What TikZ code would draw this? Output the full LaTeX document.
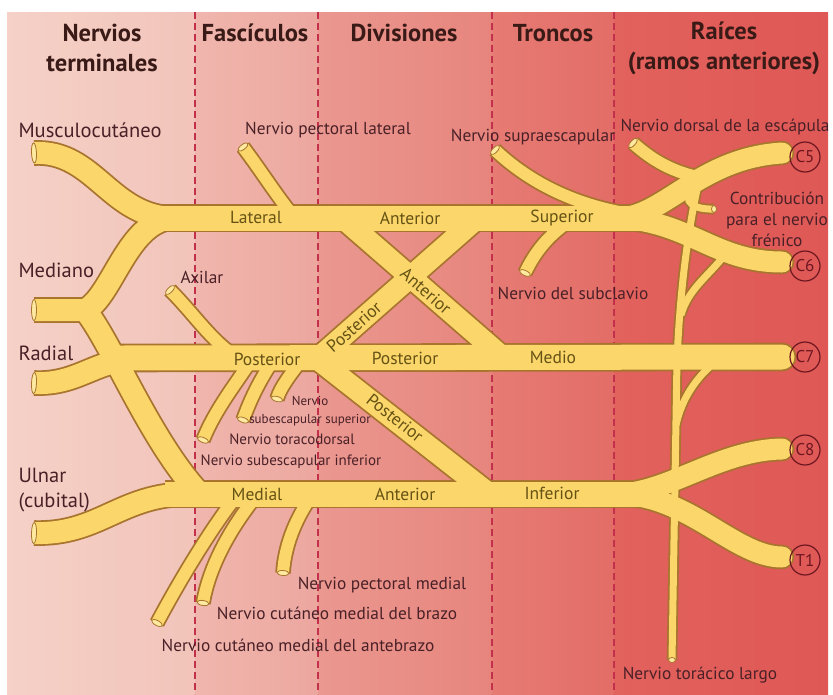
\documentclass[tikz,border=0pt]{standalone}
\usepackage{fontspec}
\setmainfont{PT Sans}
\usetikzlibrary{shapes.geometric}
\definecolor{bandA}{HTML}{F5D1C7}
\definecolor{bandAr}{HTML}{F2C4BA}
\definecolor{bandB}{HTML}{F0B6AD}
\definecolor{bandBr}{HTML}{ECA79F}
\definecolor{bandC}{HTML}{EA9890}
\definecolor{bandCr}{HTML}{E7857D}
\definecolor{bandD}{HTML}{E67B74}
\definecolor{bandDr}{HTML}{E36D67}
\definecolor{bandE}{HTML}{E2625D}
\definecolor{bandEr}{HTML}{DF5856}
\definecolor{sepred}{HTML}{C2304B}
\definecolor{nerveyellow}{HTML}{FAD66B}
\definecolor{nerveedge}{HTML}{A8742E}
\definecolor{cutyellow}{HTML}{FDE9A0}
\definecolor{headtext}{HTML}{3A1A16}
\definecolor{labeltext}{HTML}{4A2027}
\definecolor{oncord}{HTML}{665214}
\definecolor{rootred}{HTML}{6E1620}

\begin{document}
\begin{tikzpicture}[x=1pt, y=-1pt,
    sep/.style={draw=sepred, line width=1.3pt, dash pattern=on 7pt off 4pt},
    head/.style={text=headtext, align=center, font=\fontsize{24.5}{30}\selectfont\bfseries},
    lbl/.style={text=labeltext, align=center, font=\fontsize{17.3}{21}\selectfont},
    big/.style={text=labeltext, align=left, anchor=west, font=\fontsize{20.5}{25}\selectfont},
    small/.style={text=labeltext, align=center, font=\fontsize{15}{17}\selectfont},
    tiny/.style={text=labeltext, align=center, font=\fontsize{13}{18}\selectfont},
    oncordtext/.style={text=oncord, font=\fontsize{17.5}{19}\selectfont},
    rootlbl/.style={circle, draw=rootred, line width=1.2pt, minimum size=30pt, inner sep=0pt,
                    text=rootred, font=\fontsize{17}{19}\selectfont},
    trunkw/.style={line width=\wT pt},
    termw/.style={line width=\wM pt},
    rootw/.style={line width=\wR pt, line cap=round},
    divw/.style={line width=\wR pt},
    brw/.style={line width=\wB pt},
    ltw/.style={line width=\wL pt},
    cutend/.style={ellipse, draw=\cutdraw, fill=\cutfill, line width=0.8pt, inner sep=0pt,
                   minimum width=5pt, minimum height=#1}]
\useasboundingbox (0,0) rectangle (833,694);

% Background bands
\shade[left color=bandA, right color=bandAr] (7,12) rectangle (195,694);
\shade[left color=bandB, right color=bandBr] (195,12) rectangle (318,694);
\shade[left color=bandC, right color=bandCr] (318,12) rectangle (492,694);
\shade[left color=bandD, right color=bandDr] (492,12) rectangle (614,694);
\shade[left color=bandE, right color=bandEr] (614,12) rectangle (828,694);
\foreach \x in {195,318,492,614}
  \draw[sep] (\x,12) -- (\x,694);

% Headers
\node[head] (hNerv) at (102,48) {Nervios\\terminales};
\node[head] (hFasc) at (255,33) {Fascículos};
\node[head] (hDiv) at (404,33) {Divisiones};
\node[head] (hTron) at (553,33) {Troncos};
\node[head] (hRaic) at (724,48) {Raíces\\(ramos anteriores)};

% Free ends
\coordinate (MC) at (34,153);
\coordinate (Med) at (34,310);
\coordinate (MedJ) at (85,310);
\coordinate (Rad) at (34,383);
\coordinate (Uln) at (34,533);
\coordinate (C5e) at (782,153);
\coordinate (C6e) at (782,262);
\coordinate (C7e) at (782,357);
\coordinate (C8e) at (782,449);
\coordinate (T1e) at (782,557);
\coordinate (PL) at (243,147);
\coordinate (SS) at (495,150);
\coordinate (DS) at (633,143);
\coordinate (SC) at (525,273);
\coordinate (PhrE) at (714,209);
\coordinate (LTe) at (672,660);
\coordinate (Ax) at (170,290);
\coordinate (SSi) at (203,440);
\coordinate (TD) at (243,420);
\coordinate (SSs) at (277,399);
\coordinate (PM) at (283,573);
\coordinate (CMB) at (203,603);
\coordinate (CMA) at (157,623);

% Nerves: edge pass, then yellow pass
\foreach \rim/\col/\cutdraw/\cutfill in {3.6/nerveedge/none/none, 0/nerveyellow/nerveedge/cutyellow}{
  \pgfmathsetmacro\wT{25+\rim}
  \pgfmathsetmacro\wM{22+\rim}
  \pgfmathsetmacro\wR{21+\rim}
  \pgfmathsetmacro\wB{12+\rim}
  \pgfmathsetmacro\wL{7+\rim}
  \begin{scope}[draw=\col]
    % long thoracic
    \draw[ltw] (698,185) .. controls (688,230) and (680,290) .. (677,360) -- (LTe)
      node[pos=1, sloped, cutend=7pt] (cutLT) {};
    \draw[ltw] (724,256) .. controls (706,278) and (688,290) .. (681,315);
    \draw[ltw] (715,362) .. controls (696,378) and (682,398) .. (676,425);
    % phrenic contribution
    \draw[ltw] (700,184) .. controls (680,195) and (686,210) .. (PhrE)
      node[pos=1, sloped, cutend=7pt] (cutPh) {};
    % collateral branches
    \draw[brw] (PL) .. controls (262,172) and (278,198) .. (295,218)
      node[pos=0, sloped, cutend=12pt] (cutPL) {};
    \draw[brw] (SS) .. controls (530,183) and (575,205) .. (630,214)
      node[pos=0, sloped, cutend=12pt] (cutSS) {};
    \draw[brw] (DS) .. controls (652,160) and (672,172) .. (702,178)
      node[pos=0, sloped, cutend=12pt] (cutDS) {};
    \draw[brw] (SC) .. controls (535,252) and (548,236) .. (568,222)
      node[pos=0, sloped, cutend=12pt] (cutSC) {};
    \draw[brw] (Ax) .. controls (195,315) and (212,342) .. (238,358)
      node[pos=0, sloped, cutend=12pt] (cutAx) {};
    \draw[brw] (SSi) .. controls (215,410) and (235,385) .. (250,362)
      node[pos=0, sloped, cutend=12pt] (cutSSi) {};
    \draw[brw] (TD) .. controls (250,400) and (260,380) .. (272,362)
      node[pos=0, sloped, cutend=12pt] (cutTD) {};
    \draw[brw] (SSs) .. controls (280,388) and (290,375) .. (300,362)
      node[pos=0, sloped, cutend=12pt] (cutSSs) {};
    \draw[brw] (PM) .. controls (285,542) and (298,515) .. (313,494)
      node[pos=0, sloped, cutend=12pt] (cutPM) {};
    \draw[brw] (CMB) .. controls (210,562) and (235,522) .. (258,494)
      node[pos=0, sloped, cutend=12pt] (cutCMB) {};
    \draw[brw] (CMA) .. controls (180,580) and (210,530) .. (238,494)
      node[pos=0, sloped, cutend=12pt] (cutCMA) {};
    % divisions
    \draw[divw] (338,214) -- (506,360);
    \draw[divw] (482,214) -- (316,360);
    \draw[divw] (316,358) -- (492,496);
    % terminal nerves
    \draw[termw] (MC) .. controls (95,150) and (110,218) .. (175,218)
      node[pos=0, sloped, cutend=20pt] (cutMC) {};
    \draw[termw] (Med) -- (MedJ) node[pos=0, sloped, cutend=21pt] (cutMed) {}
      .. controls (112,298) and (128,218) .. (175,218);
    \draw[termw] (MedJ) .. controls (110,340) and (150,440) .. (198,492);
    \draw[termw] (Rad) .. controls (80,385) and (95,358) .. (145,358)
      node[pos=0, sloped, cutend=21pt] (cutRad) {};
    \draw[termw] (Uln) .. controls (100,535) and (120,494) .. (190,494)
      node[pos=0, sloped, cutend=21pt] (cutUln) {};
    % cords and trunks
    \draw[trunkw] (150,218) -- (640,218);
    \draw[trunkw, line cap=round] (120,358) -- (C7e);
    \draw[trunkw] (165,494) -- (640,494);
    % roots
    \draw[rootw] (620,218) .. controls (665,216) and (700,158) .. (C5e);
    \draw[rootw] (620,218) .. controls (690,222) and (715,262) .. (C6e);
    \draw[rootw] (620,494) .. controls (670,492) and (720,450) .. (C8e);
    \draw[rootw] (620,494) .. controls (690,496) and (735,557) .. (T1e);
  \end{scope}
}

% Labels on the nerves
\node[oncordtext] (bLat) at (256,217) {Lateral};
\node[oncordtext] (bAntS) at (410,218) {Anterior};
\node[oncordtext] (bSup) at (562,218) {Superior};
\node[oncordtext] (bPosC) at (267,359) {Posterior};
\node[oncordtext] (bPosD) at (405,358) {Posterior};
\node[oncordtext] (bMedio) at (553,357) {Medio};
\node[oncordtext] (bMedial) at (257,494) {Medial};
\node[oncordtext] (bAntI) at (405,494) {Anterior};
\node[oncordtext] (bInf) at (552,493) {Inferior};
\node[oncordtext, rotate=-41] (bAntX) at (426,291) {Anterior};
\node[oncordtext, rotate=41.5] (bPosX) at (354,327) {Posterior};
\node[oncordtext, rotate=-38.3] (bPosY) at (395,418) {Posterior};

% Roots
\node[rootlbl] (rC5) at (805,157) {C5};
\node[rootlbl] (rC6) at (805,266) {C6};
\node[rootlbl] (rC7) at (805,357) {C7};
\node[rootlbl] (rC8) at (805,450) {C8};
\node[rootlbl] (rT1) at (805,560) {T1};

% Nerve names
\node[big] (lMC) at (15,130) {Musculocutáneo};
\node[big] (lMed) at (15,270) {Mediano};
\node[big] (lRad) at (15,353) {Radial};
\node[big] (lUln) at (15,490) {Ulnar\\(cubital)};
\node[lbl] (lPL) at (328,130) {Nervio pectoral lateral};
\node[lbl] (lSS) at (533,137) {Nervio supraescapular};
\node[lbl] (lDS) at (725,127) {Nervio dorsal de la escápula};
\node[lbl] (lPhr) at (777,219) {Contribución\\para el nervio\\frénico};
\node[lbl] (lSC) at (573,293) {Nervio del subclavio};
\node[lbl] (lAx) at (202,277) {Axilar};
\node[tiny] (lSSs) at (310,411) {Nervio\\subescapular superior};
\node[small] (lTD) at (292,439) {Nervio toracodorsal};
\node[small] (lSSi) at (291,462) {Nervio subescapular inferior};
\node[lbl] (lPM) at (382,585) {Nervio pectoral medial};
\node[lbl] (lCMB) at (337,613) {Nervio cutáneo medial del brazo};
\node[lbl] (lCMA) at (298,645) {Nervio cutáneo medial del antebrazo};
\node[lbl] (lLT) at (700,675) {Nervio torácico largo};
\end{tikzpicture}
\end{document}
